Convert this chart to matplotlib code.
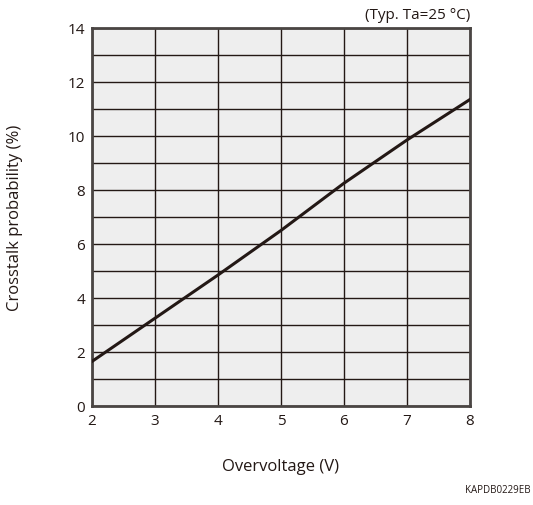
import matplotlib
matplotlib.use('Agg')
import matplotlib.pyplot as plt
import numpy as np

# Data
overvoltage = [2, 3, 4, 5, 6, 7, 8]
crosstalk = [1.65, 3.25, 4.85, 6.5, 8.25, 9.85, 11.35]

x_ticks = [2, 3, 4, 5, 6, 7, 8]
y_ticks = [0, 2, 4, 6, 8, 10, 12, 14]

plt.rcParams['font.family'] = ['Open Sans', 'DejaVu Sans']

fig = plt.figure(figsize=(5.33, 5.06), dpi=100)
ax = fig.add_axes([0.1726, 0.1957, 0.709, 0.747])
ax.set_facecolor('#eeeeee')

ax.plot(overvoltage, crosstalk, color='#231815', lw=2.2, zorder=3)

ax.set_xlim(2, 8)
ax.set_ylim(0, 14)
ax.set_xticks(x_ticks)
ax.set_yticks(y_ticks)
ax.set_yticks(np.arange(0, 15, 1), minor=True)
ax.grid(True, which='both', color='#231815', lw=1.0, zorder=1)
ax.set_axisbelow(True)
ax.tick_params(which='both', length=0, labelsize=11, colors='#231815', pad=5)

for s in ax.spines.values():
    s.set_color('#4a4543')
    s.set_linewidth(2)

ax.set_xlabel('Overvoltage (V)', fontsize=12, color='#231815', labelpad=22)
ax.set_ylabel('Crosstalk probability (%)', fontsize=12, color='#231815', labelpad=32)

fig.text(0.8818, 0.955, '(Typ. Ta=25 °C)', ha='right', va='bottom', fontsize=11, color='#231815')
fig.text(0.995, 0.02, 'KAPDB0229EB', ha='right', va='bottom', fontsize=7, color='#231815')

fig.savefig('out.png', dpi=100)
